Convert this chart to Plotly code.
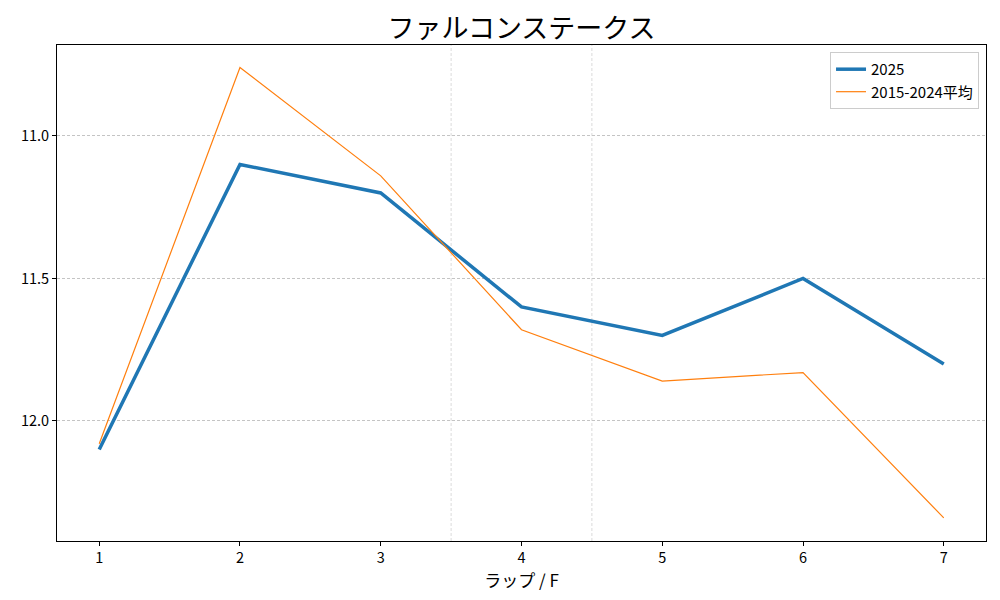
import plotly.graph_objects as go

# Lap numbers and lap times (sec per furlong)
laps = [1, 2, 3, 4, 5, 6, 7]
lap_2025 = [12.1, 11.1, 11.2, 11.6, 11.7, 11.5, 11.8]
lap_avg = [12.08, 10.76, 11.14, 11.68, 11.86, 11.83, 12.34]
y_ticks = [11.0, 11.5, 12.0]
section_marks = [3.5, 4.5]

FONT = "Noto Sans CJK JP"

fig = go.Figure()

fig.add_trace(go.Scatter(x=laps, y=lap_2025, mode='lines', name='2025',
                         line=dict(color='#1f77b4', width=3.5)))
fig.add_trace(go.Scatter(x=laps, y=lap_avg, mode='lines', name='2015-2024平均',
                         line=dict(color='#ff7f0e', width=1.2)))

# Dashed vertical section markers
for xv in section_marks:
    fig.add_vline(x=xv, line=dict(color='#cccccc', width=0.7, dash='3px,2px'), layer='below')

# page body adds ~7px offset, so margins are shifted to compensate
fig.update_layout(
    width=1000, height=600,
    plot_bgcolor='white', paper_bgcolor='white',
    font=dict(family=FONT, size=14.5, color='black'),
    title=dict(text='ファルコンステークス', x=0.5, xref='paper', xanchor='center',
               y=0.966, yanchor='middle',
               font=dict(size=27, family=FONT), automargin=False),
    margin=dict(l=49, r=22, t=37, b=67, autoexpand=False),
    legend=dict(x=0.9925, y=0.986, xanchor='right', yanchor='top',
                bordercolor='#cccccc', borderwidth=1, bgcolor='white',
                font=dict(size=15), tracegroupgap=2),
    showlegend=True,
)

fig.update_xaxes(range=[0.7, 7.3], tickvals=laps, showgrid=False, automargin=False,
                 showline=True, linecolor='black', linewidth=1, mirror=True,
                 ticks='outside', ticklen=4, tickcolor='black',
                 title=dict(text='ラップ / F', font=dict(size=17), standoff=4),
                 zeroline=False)
fig.update_yaxes(range=[12.421, 10.681], tickvals=y_ticks, tickformat='.1f', automargin=False,
                 showgrid=True, gridcolor='#c4c4c4', griddash='3px,2px', gridwidth=0.7,
                 showline=True, linecolor='black', linewidth=1, mirror=True,
                 ticks='outside', ticklen=4, tickcolor='black', zeroline=False)

fig.write_html("out.html")
